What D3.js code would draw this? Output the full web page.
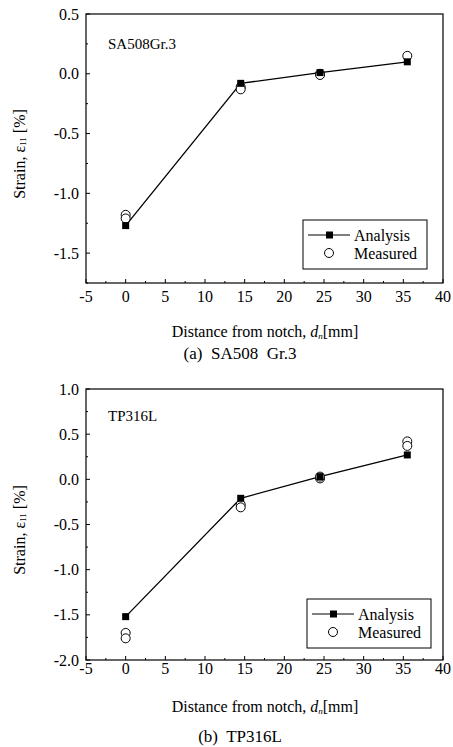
<!DOCTYPE html>
<html>
<head>
<meta charset="utf-8">
<script src="https://d3js.org/d3.v7.min.js"></script>
<style>
  body { margin: 0; background: #fff; }
  text { font-family: "Liberation Serif", "Times New Roman", serif; fill: #000; }
</style>
</head>
<body>
<script>
// data
var distance = [0, 14.5, 24.5, 35.5];
var xTicks = [-5, 0, 5, 10, 15, 20, 25, 30, 35, 40];

// (a) SA508 Gr.3
var analysisA = [-1.27, -0.08, 0.01, 0.10];
var measuredA_x = [0, 0, 14.5, 14.5, 24.5, 24.5, 35.5];
var measuredA_y = [-1.18, -1.21, -0.11, -0.13, 0.0, -0.01, 0.15];
var yTicksA = [0.5, 0.0, -0.5, -1.0, -1.5];

// (b) TP316L
var analysisB = [-1.52, -0.21, 0.03, 0.27];
var measuredB_x = [0, 0, 14.5, 14.5, 24.5, 24.5, 35.5, 35.5];
var measuredB_y = [-1.70, -1.76, -0.28, -0.31, 0.01, 0.03, 0.42, 0.37];
var yTicksB = [1.0, 0.5, 0.0, -0.5, -1.0, -1.5, -2.0];

var W = 453, H = 747;
var svg = d3.select("body").append("svg").attr("width", W).attr("height", H);

function fmt(d) { return d3.format(".1f")(d).replace("\u2212", "-"); }

function panel(opt) {
    var x = d3.scaleLinear().domain([-5, 40]).range([86, 443]);
    var y = d3.scaleLinear().domain(opt.yDomain).range([opt.bottom, opt.top]);
    var g = svg.append("g");

    // minor ticks (inside)
    var xMinor = d3.range(-5, 40.01, 2.5);
    g.selectAll(".xm").data(xMinor).enter().append("line")
        .attr("x1", function(d) { return x(d); }).attr("x2", function(d) { return x(d); })
        .attr("y1", opt.bottom).attr("y2", function(d) { return opt.bottom - (d % 5 == 0 ? 4 : 2); })
        .attr("stroke", "#000").attr("stroke-width", 1);
    var yMinor = d3.range(opt.yDomain[0], opt.yDomain[1] + 0.001, 0.25);
    g.selectAll(".ym").data(yMinor).enter().append("line")
        .attr("y1", function(d) { return y(d); }).attr("y2", function(d) { return y(d); })
        .attr("x1", 86).attr("x2", function(d) { return 86 + (Math.abs(d * 2 - Math.round(d * 2)) < 0.01 ? 4 : 2); })
        .attr("stroke", "#000").attr("stroke-width", 1);

    // frame
    g.append("rect").attr("x", 86).attr("y", opt.top)
        .attr("width", 443 - 86).attr("height", opt.bottom - opt.top)
        .attr("fill", "none").attr("stroke", "#000").attr("stroke-width", 1.2);

    // tick labels
    g.selectAll(".xl").data(xTicks).enter().append("text")
        .attr("x", function(d) { return x(d); })
        .attr("y", opt.bottom + opt.xLabOff)
        .attr("text-anchor", "middle").attr("dominant-baseline", "central")
        .attr("font-size", "16px")
        .text(function(d) { return d; });
    g.selectAll(".yl").data(opt.yTicks).enter().append("text")
        .attr("x", 79).attr("y", function(d) { return y(d); })
        .attr("text-anchor", "end").attr("dominant-baseline", "central")
        .attr("font-size", "16px")
        .text(fmt);

    // axis titles
    var xt = g.append("text").attr("x", 265).attr("y", opt.xTitleY)
        .attr("text-anchor", "middle").attr("dominant-baseline", "central").attr("font-size", "16px");
    xt.append("tspan").text("Distance from notch, ");
    xt.append("tspan").attr("font-style", "italic").text("d");
    xt.append("tspan").attr("font-style", "italic").attr("font-size", "9px").attr("dy", 5).text("n");
    xt.append("tspan").attr("dy", -5).text("[mm]");

    var yt = g.append("text")
        .attr("transform", "translate(19," + opt.yTitleY + ") rotate(-90)")
        .attr("text-anchor", "middle").attr("dominant-baseline", "central").attr("font-size", "16px");
    yt.append("tspan").text("Strain, \u03b5");
    yt.append("tspan").attr("font-size", "9px").attr("dy", 4).text("11");
    yt.append("tspan").attr("dy", -4).text(" [%]");

    g.append("text").attr("x", 240).attr("y", opt.captionY)
        .attr("text-anchor", "middle").attr("dominant-baseline", "central").attr("font-size", "17px")
        .attr("xml:space", "preserve")
        .text(opt.caption);

    g.append("text").attr("x", 108).attr("y", opt.nameY)
        .attr("dominant-baseline", "central").attr("font-size", "15px")
        .text(opt.name);

    // analysis line + squares
    var line = d3.line().x(function(d, i) { return x(distance[i]); }).y(function(d) { return y(d); });
    g.append("path").datum(opt.analysis).attr("d", line)
        .attr("fill", "none").attr("stroke", "#000").attr("stroke-width", 1.3);

    // measured circles
    g.selectAll(".mc").data(opt.my).enter().append("circle")
        .attr("cx", function(d, i) { return x(opt.mx[i]); })
        .attr("cy", function(d) { return y(d); })
        .attr("r", 4.5).attr("fill", "#fff").attr("stroke", "#000").attr("stroke-width", 1);

    g.selectAll(".sq").data(opt.analysis).enter().append("rect")
        .attr("x", function(d, i) { return x(distance[i]) - 3.5; })
        .attr("y", function(d) { return y(d) - 3.5; })
        .attr("width", 7).attr("height", 7).attr("fill", "#000");

    // legend
    var lx = opt.legX, ly = opt.legY;
    g.append("rect").attr("x", lx).attr("y", ly).attr("width", 124).attr("height", 49)
        .attr("fill", "#fff").attr("stroke", "#000").attr("stroke-width", 1);
    g.append("line").attr("x1", lx + 5).attr("x2", lx + 47).attr("y1", ly + 15).attr("y2", ly + 15)
        .attr("stroke", "#000").attr("stroke-width", 1.2);
    g.append("rect").attr("x", lx + 23).attr("y", ly + 11.5).attr("width", 7).attr("height", 7).attr("fill", "#000");
    g.append("text").attr("x", lx + 51).attr("y", ly + 15).attr("dominant-baseline", "central")
        .attr("font-size", "16px").text("Analysis");
    g.append("circle").attr("cx", lx + 26).attr("cy", ly + 33).attr("r", 4.5)
        .attr("fill", "#fff").attr("stroke", "#000").attr("stroke-width", 1);
    g.append("text").attr("x", lx + 51).attr("y", ly + 33).attr("dominant-baseline", "central")
        .attr("font-size", "16px").text("Measured");
}

panel({
    top: 14, bottom: 283, yDomain: [-1.75, 0.5], yTicks: yTicksA,
    analysis: analysisA, mx: measuredA_x, my: measuredA_y,
    xLabOff: 13, xTitleY: 331, captionY: 353, yTitleY: 154,
    caption: "(a)  SA508  Gr.3", name: "SA508Gr.3", nameY: 44,
    legX: 303, legY: 220
});

panel({
    top: 389, bottom: 660, yDomain: [-2.0, 1.0], yTicks: yTicksB,
    analysis: analysisB, mx: measuredB_x, my: measuredB_y,
    xLabOff: 8, xTitleY: 706, captionY: 736, yTitleY: 530,
    caption: "(b)  TP316L", name: "TP316L", nameY: 416,
    legX: 307, legY: 599
});
</script>
</body>
</html>
